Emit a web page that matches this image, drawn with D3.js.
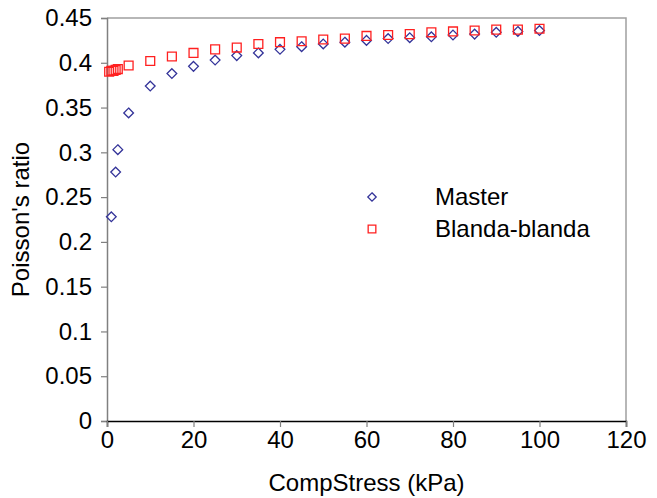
<!DOCTYPE html>
<html>
<head>
<meta charset="utf-8">
<script src="https://cdn.jsdelivr.net/npm/d3@7"></script>
<style>
  body { margin: 0; background: #fff; }
  svg { font-family: "Liberation Sans", Arial, sans-serif; }
</style>
</head>
<body>
<div id="chart"></div>
<script>
// Data
const masterX = [1, 2, 2.5, 5, 10, 15, 20, 25, 30, 35, 40, 45, 50, 55, 60, 65, 70, 75, 80, 85, 90, 95, 100];
const masterY = [0.228, 0.278, 0.303, 0.344, 0.374, 0.388, 0.396, 0.403, 0.408, 0.411, 0.415, 0.418, 0.421, 0.423, 0.425, 0.427, 0.428, 0.429, 0.431, 0.432, 0.434, 0.435, 0.436];

const blandaX = [0.5, 1, 1.5, 2, 2.5, 5, 10, 15, 20, 25, 30, 35, 40, 45, 50, 55, 60, 65, 70, 75, 80, 85, 90, 95, 100];
const blandaY = [0.390, 0.391, 0.391, 0.392, 0.393, 0.397, 0.402, 0.407, 0.411, 0.415, 0.417, 0.421, 0.423, 0.424, 0.426, 0.427, 0.430, 0.431, 0.432, 0.434, 0.435, 0.436, 0.437, 0.437, 0.438];

const xTicks = [0, 20, 40, 60, 80, 100, 120];
const yTicks = [0, 0.05, 0.1, 0.15, 0.2, 0.25, 0.3, 0.35, 0.4, 0.45];

const seriesNames = ["Master", "Blanda-blanda"];

const width = 657, height = 498;
const margin = { left: 107, right: 31, top: 18, bottom: 77 };
const fontSize = 24;

const svg = d3.select("#chart").append("svg")
    .attr("width", width)
    .attr("height", height);

const x = d3.scaleLinear().domain([0, 120]).range([margin.left, width - margin.right]);
const y = d3.scaleLinear().domain([0, 0.45]).range([height - margin.bottom, margin.top]);

// frame (top + right gray)
svg.append("path")
    .attr("d", `M${x(0)},${y(0.45)}H${x(120)}V${y(0)}`)
    .attr("fill", "none")
    .attr("stroke", "#a0a0a0")
    .attr("stroke-width", 1.5);

// y axis
const yAxis = svg.append("g")
    .attr("transform", `translate(${x(0)},0)`)
    .call(d3.axisLeft(y).tickValues(yTicks).tickSize(6).tickPadding(9)
        .tickFormat(d => d3.format("")(+d.toFixed(2))));
yAxis.select(".domain").attr("stroke", "#808080").attr("stroke-width", 1.5);
yAxis.selectAll(".tick line").attr("stroke", "#808080").attr("stroke-width", 1.2);
yAxis.selectAll("text").attr("font-size", fontSize).attr("fill", "#000");

// x axis
const xAxis = svg.append("g")
    .attr("transform", `translate(0,${y(0)})`)
    .call(d3.axisBottom(x).tickValues(xTicks).tickSize(6).tickPadding(4));
xAxis.select(".domain").attr("stroke", "#000").attr("stroke-width", 1.5);
xAxis.selectAll(".tick line").attr("stroke", "#808080").attr("stroke-width", 1.2);
xAxis.selectAll("text").attr("font-size", fontSize).attr("fill", "#000");

// axis titles
svg.append("text")
    .attr("x", (x(0) + x(120)) / 2)
    .attr("y", 491)
    .attr("text-anchor", "middle")
    .attr("font-size", fontSize)
    .text("CompStress (kPa)");

svg.append("text")
    .attr("transform", `translate(29,${(y(0) + y(0.45)) / 2}) rotate(-90)`)
    .attr("text-anchor", "middle")
    .attr("font-size", fontSize)
    .text("Poisson's ratio");

// markers
const diamond = d3.symbol().type(d3.symbolDiamond2).size(60);
const square = d3.symbol().type(d3.symbolSquare2).size(100);

const masterData = masterX.map((d, i) => [d, masterY[i]]);
const blandaData = blandaX.map((d, i) => [d, blandaY[i]]);

svg.append("g").selectAll("path")
    .data(masterData)
    .enter().append("path")
    .attr("d", diamond)
    .attr("transform", d => `translate(${x(d[0])},${y(d[1])})`)
    .attr("fill", "none")
    .attr("stroke", "#333399")
    .attr("stroke-width", 1.3);

svg.append("g").selectAll("path")
    .data(blandaData)
    .enter().append("path")
    .attr("d", square)
    .attr("transform", d => `translate(${x(d[0])},${y(d[1])})`)
    .attr("fill", "none")
    .attr("stroke", "#ff2020")
    .attr("stroke-width", 1.3);

// legend
const legend = svg.append("g");
const legendY = [197, 229];
legend.append("path")
    .attr("d", d3.symbol().type(d3.symbolDiamond2).size(45))
    .attr("transform", `translate(372,${legendY[0]})`)
    .attr("fill", "none").attr("stroke", "#333399").attr("stroke-width", 1.3);
legend.append("path")
    .attr("d", d3.symbol().type(d3.symbolSquare2).size(75))
    .attr("transform", `translate(372,${legendY[1]})`)
    .attr("fill", "none").attr("stroke", "#ff2020").attr("stroke-width", 1.3);
legend.selectAll("text")
    .data(seriesNames)
    .enter().append("text")
    .attr("x", 435)
    .attr("y", (d, i) => legendY[i])
    .attr("dy", "0.35em")
    .attr("font-size", fontSize)
    .text(d => d);
</script>
</body>
</html>
